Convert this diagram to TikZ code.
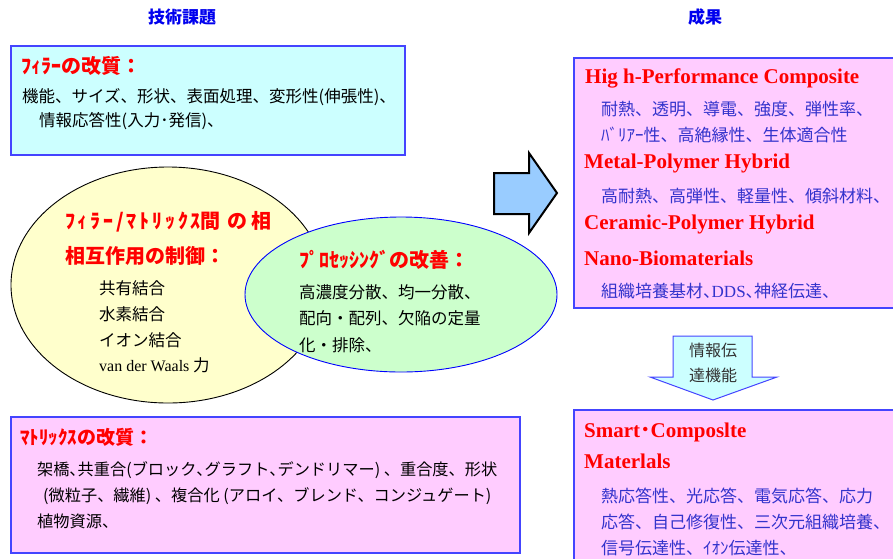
\documentclass[tikz,border=0pt]{standalone}
\usepackage{fontspec}
\setmainfont{Liberation Serif}
\newfontfamily\jp{Noto Sans CJK JP}
\newcommand{\pc}{{\addfontfeature{RawFeature=+palt}、}}
\usetikzlibrary{shapes.geometric}
\definecolor{cyanfill}{HTML}{CCFFFF}
\definecolor{pinkfill}{HTML}{FFCCFF}
\definecolor{yelfill}{HTML}{FFFFCC}
\definecolor{grnfill}{HTML}{CCFFCC}
\definecolor{arrfill}{HTML}{99CCFF}
\definecolor{boxline}{HTML}{4444FF}
\definecolor{redtxt}{HTML}{FF0000}
\definecolor{blutxt}{HTML}{3333CC}
\definecolor{hdrblue}{HTML}{0000EE}
\begin{document}
\begin{tikzpicture}[x=1pt,y=-1pt,
  rbox/.style={draw=boxline,line width=1.6pt,anchor=north west,inner sep=0},
  hdr/.style={inner sep=0,text=hdrblue,font=\jp\bfseries\fontsize{17}{17}\selectfont},
  blk/.style={anchor=west,inner sep=0,font=\jp\fontsize{16.5}{16.5}\selectfont},
  blk16/.style={anchor=west,inner sep=0,font=\jp\fontsize{16.2}{16.2}\selectfont},
  blu/.style={anchor=west,inner sep=0,text=blutxt,font=\jp\fontsize{17}{17}\selectfont},
  redjp/.style={anchor=west,inner sep=0,text=redtxt,font=\jp\bfseries\fontsize{20}{20}\selectfont},
  redlat/.style={anchor=base west,inner sep=0,text=redtxt,font=\bfseries\fontsize{21}{21}\selectfont},
  arrtxt/.style={inner sep=0,text=black!80,font=\jp\fontsize{16}{16}\selectfont}]
\useasboundingbox (0,0) rectangle (893,558);
\clip (0,0) rectangle (893,558);
% headers
\node[hdr] (h1) at (182,17) {技術課題};
\node[hdr] (h2) at (705,17) {成果};
% filler box
\node[rbox,fill=cyanfill,minimum width=394,minimum height=109] (fbox) at (10,45) {};
\node[redjp] (ft) at (21,66) {ﾌｨﾗｰの改質：};
\node[blk] (f1) at (22,97.5) {機能、サイズ、形状、表面処理、変形性(伸張性)、};
\node[blk] (f2) at (39,121) {情報応答性(入力･発信)、};
% ellipses
\node[ellipse,draw=black,line width=0.9pt,fill=yelfill,minimum width=314,minimum height=236,inner sep=0] (yel) at (168,285) {};
\node[ellipse,draw=blue,line width=0.9pt,fill=grnfill,minimum width=312,minimum height=155,inner sep=0] (grn) at (401,294.5) {};
\node[redjp] (y1) at (65,222) {{\addfontfeature{LetterSpace=14}ﾌｨﾗｰ/ﾏﾄﾘｯｸｽ}間\hspace{7pt}の\hspace{4pt}相};
\node[redjp] (y2) at (65,256) {相互作用の制御：};
\node[blk] (y3) at (99,288) {共有結合};
\node[blk] (y4) at (99,314) {水素結合};
\node[blk] (y5) at (99,340) {イオン結合};
\node[blk,anchor=base west] (y6) at (99,371) {{\rmfamily\fontsize{16}{16}\selectfont van der Waals} 力};
\node[redjp] (g1) at (299,260) {ﾌﾟﾛｾｯｼﾝｸﾞの改善：};
\node[blk] (g2) at (299,292) {高濃度分散、均一分散、};
\node[blk] (g3) at (299,318) {配向・配列、欠陥の定量};
\node[blk] (g4) at (299,345) {化・排除、};
% right arrow
\draw[fill=arrfill,draw=black,line width=2pt,line join=miter]
  (494,173) -- (529,173) -- (529,153) -- (557,193) -- (529,233) -- (529,214) -- (494,214) -- cycle;
% top right box
\node[rbox,fill=pinkfill,minimum width=340,minimum height=250] (rb1) at (573,57) {};
\node[redlat] (r1) at (585,83) {Hig h-Performance Composite};
\node[blu] (r2) at (601,109) {耐熱、透明、導電、強度、弾性率、};
\node[blu] (r3) at (601,135) {ﾊﾞﾘｱｰ性、高絶縁性、生体適合性};
\node[redlat] (r4) at (584,168) {Metal-Polymer Hybrid};
\node[blu] (r5) at (601,196) {高耐熱、高弾性、軽量性、傾斜材料、};
\node[redlat] (r6) at (584,229) {Ceramic-Polymer Hybrid};
\node[redlat] (r7) at (584,265) {Nano-Biomaterials};
\node[blu] (r8) at (601,291) {組織培養基材\pc{\rmfamily DDS}\pc 神経伝達、};
% down arrow
\draw[fill=cyanfill,draw=boxline,line width=1pt,line join=miter]
  (673,336) -- (752,336) -- (752,377) -- (777,377) -- (713,400) -- (650,377) -- (673,377) -- cycle;
\node[arrtxt] (d1) at (713,350) {情報伝};
\node[arrtxt] (d2) at (713,375) {達機能};
% bottom left box
\node[rbox,fill=pinkfill,minimum width=509,minimum height=136] (mbox) at (10,416) {};
\node[redjp,font=\jp\bfseries\fontsize{19}{19}\selectfont] (m1) at (20,437) {ﾏﾄﾘｯｸｽの改質：};
\node[blk16] (m2) at (37,470) {架橋\pc 共重合(ブロック\pc グラフト\pc デンドリマー) 、重合度、形状};
\node[blk16] (m3) at (43,496) {(微粒子、繊維) 、複合化 (アロイ、ブレンド、コンジュゲート)};
\node[blk16] (m4) at (37,521) {植物資源、};
% bottom right box
\node[rbox,fill=pinkfill,minimum width=340,minimum height=170] (rb2) at (573,409) {};
\node[redlat] (s1) at (584,437) {Smart{\jp ･}Composlte};
\node[redlat] (s2) at (584,468) {Materlals};
\node[blu] (s3) at (601,496) {熱応答性、光応答、電気応答、応力};
\node[blu] (s4) at (601,522) {応答、自己修復性、三次元組織培養、};
\node[blu] (s5) at (601,548) {信号伝達性、ｲｵﾝ伝達性、};
\end{tikzpicture}
\end{document}
